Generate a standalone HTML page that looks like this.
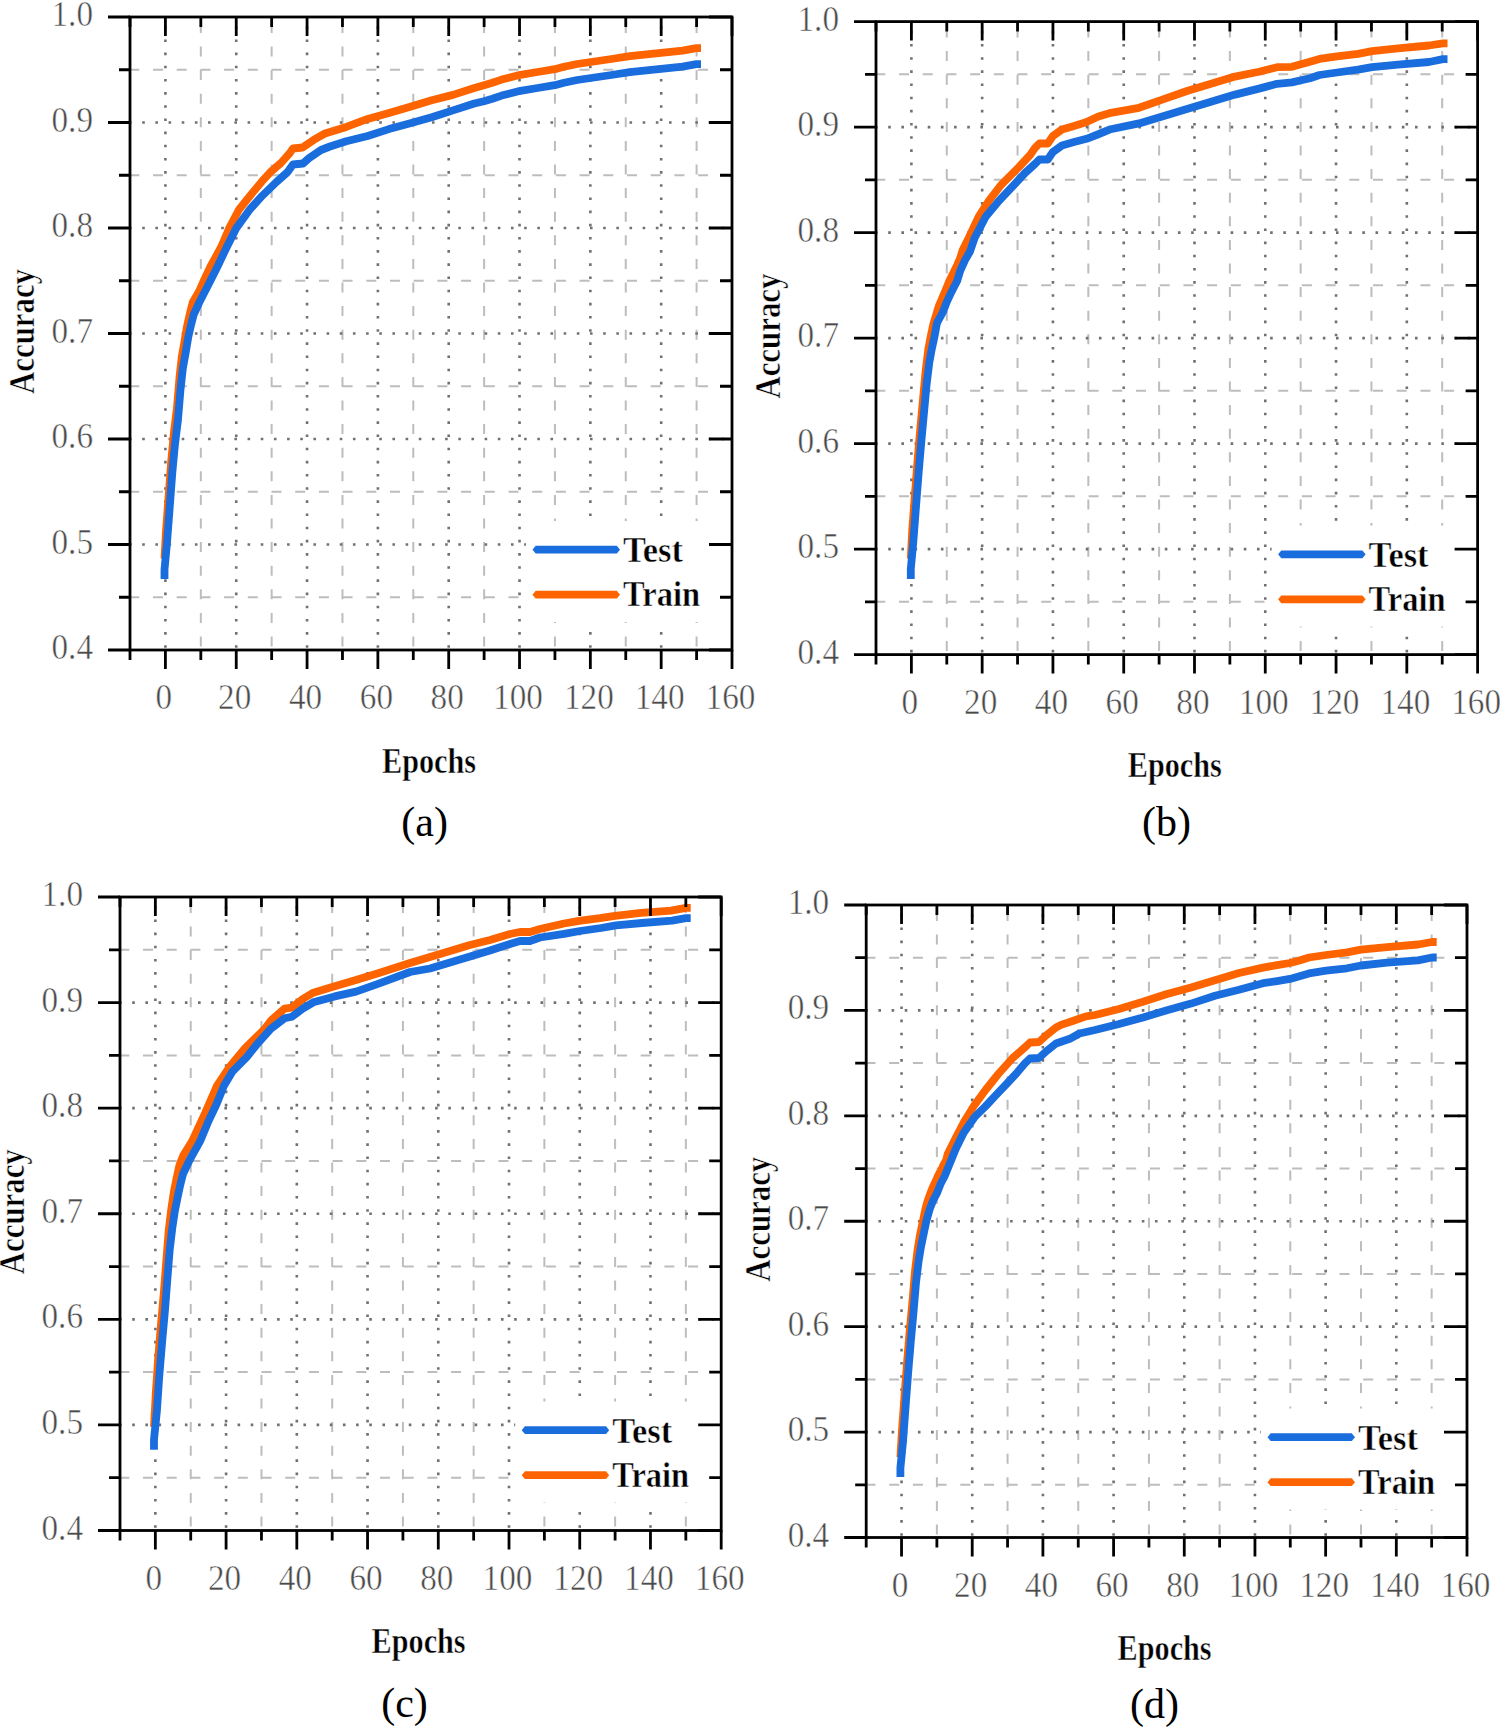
<!DOCTYPE html>
<html><head><meta charset="utf-8"><title>Accuracy vs Epochs</title>
<style>
html,body{margin:0;padding:0;background:#fff;}
body{width:1500px;height:1729px;overflow:hidden;}
svg{display:block;}
text{font-family:"Liberation Serif",serif;}
.tk text{font-size:35px;fill:#4a4a4a;stroke:#fff;stroke-width:0.5px;}
.lg{font-size:36px;font-weight:bold;fill:#000;stroke:#fff;stroke-width:0.5px;}
.ttl{font-size:36px;font-weight:bold;fill:#000;stroke:#fff;stroke-width:0.5px;}
.cap{font-size:42px;fill:#000;}
</style></head>
<body>
<svg width="1500" height="1729" viewBox="0 0 1500 1729">
<rect width="1500" height="1729" fill="#fff"/>
<g><line x1="200.82" y1="17" x2="200.82" y2="650" stroke="#bdbdbd" stroke-width="2" stroke-dasharray="10 13.6" stroke-dashoffset="-29.5"/><line x1="271.65" y1="17" x2="271.65" y2="650" stroke="#bdbdbd" stroke-width="2" stroke-dasharray="10 13.6" stroke-dashoffset="-29.5"/><line x1="342.47" y1="17" x2="342.47" y2="650" stroke="#bdbdbd" stroke-width="2" stroke-dasharray="10 13.6" stroke-dashoffset="-29.5"/><line x1="413.29" y1="17" x2="413.29" y2="650" stroke="#bdbdbd" stroke-width="2" stroke-dasharray="10 13.6" stroke-dashoffset="-29.5"/><line x1="484.12" y1="17" x2="484.12" y2="650" stroke="#bdbdbd" stroke-width="2" stroke-dasharray="10 13.6" stroke-dashoffset="-29.5"/><line x1="554.94" y1="17" x2="554.94" y2="650" stroke="#bdbdbd" stroke-width="2" stroke-dasharray="10 13.6" stroke-dashoffset="-29.5"/><line x1="625.76" y1="17" x2="625.76" y2="650" stroke="#bdbdbd" stroke-width="2" stroke-dasharray="10 13.6" stroke-dashoffset="-29.5"/><line x1="696.59" y1="17" x2="696.59" y2="650" stroke="#bdbdbd" stroke-width="2" stroke-dasharray="10 13.6" stroke-dashoffset="-29.5"/><line x1="130" y1="597.25" x2="732" y2="597.25" stroke="#bdbdbd" stroke-width="2" stroke-dasharray="10 13.7" stroke-dashoffset="0.7"/><line x1="130" y1="491.75" x2="732" y2="491.75" stroke="#bdbdbd" stroke-width="2" stroke-dasharray="10 13.7" stroke-dashoffset="0.7"/><line x1="130" y1="386.25" x2="732" y2="386.25" stroke="#bdbdbd" stroke-width="2" stroke-dasharray="10 13.7" stroke-dashoffset="0.7"/><line x1="130" y1="280.75" x2="732" y2="280.75" stroke="#bdbdbd" stroke-width="2" stroke-dasharray="10 13.7" stroke-dashoffset="0.7"/><line x1="130" y1="175.25" x2="732" y2="175.25" stroke="#bdbdbd" stroke-width="2" stroke-dasharray="10 13.7" stroke-dashoffset="0.7"/><line x1="130" y1="69.75" x2="732" y2="69.75" stroke="#bdbdbd" stroke-width="2" stroke-dasharray="10 13.7" stroke-dashoffset="0.7"/><line x1="165.41" y1="17" x2="165.41" y2="650" stroke="#717171" stroke-width="2.6" stroke-dasharray="2.6 10.57" stroke-dashoffset="-22.4"/><line x1="236.24" y1="17" x2="236.24" y2="650" stroke="#717171" stroke-width="2.6" stroke-dasharray="2.6 10.57" stroke-dashoffset="-22.4"/><line x1="307.06" y1="17" x2="307.06" y2="650" stroke="#717171" stroke-width="2.6" stroke-dasharray="2.6 10.57" stroke-dashoffset="-22.4"/><line x1="377.88" y1="17" x2="377.88" y2="650" stroke="#717171" stroke-width="2.6" stroke-dasharray="2.6 10.57" stroke-dashoffset="-22.4"/><line x1="448.71" y1="17" x2="448.71" y2="650" stroke="#717171" stroke-width="2.6" stroke-dasharray="2.6 10.57" stroke-dashoffset="-22.4"/><line x1="519.53" y1="17" x2="519.53" y2="650" stroke="#717171" stroke-width="2.6" stroke-dasharray="2.6 10.57" stroke-dashoffset="-22.4"/><line x1="590.35" y1="17" x2="590.35" y2="650" stroke="#717171" stroke-width="2.6" stroke-dasharray="2.6 10.57" stroke-dashoffset="-22.4"/><line x1="661.18" y1="17" x2="661.18" y2="650" stroke="#717171" stroke-width="2.6" stroke-dasharray="2.6 10.57" stroke-dashoffset="-22.4"/><line x1="130" y1="544.5" x2="732" y2="544.5" stroke="#717171" stroke-width="2.6" stroke-dasharray="2.6 10.57" stroke-dashoffset="-12.2"/><line x1="130" y1="439" x2="732" y2="439" stroke="#717171" stroke-width="2.6" stroke-dasharray="2.6 10.57" stroke-dashoffset="-12.2"/><line x1="130" y1="333.5" x2="732" y2="333.5" stroke="#717171" stroke-width="2.6" stroke-dasharray="2.6 10.57" stroke-dashoffset="-12.2"/><line x1="130" y1="228" x2="732" y2="228" stroke="#717171" stroke-width="2.6" stroke-dasharray="2.6 10.57" stroke-dashoffset="-12.2"/><line x1="130" y1="122.5" x2="732" y2="122.5" stroke="#717171" stroke-width="2.6" stroke-dasharray="2.6 10.57" stroke-dashoffset="-12.2"/></g>
<rect x="526" y="521" width="204" height="101" fill="#fff"/>
<polyline points="164.5,558.6 166,531 168.7,495.5 171.3,460.6 174,432 177,407.5 179.5,377.5 181.8,356.6 184.6,341 187.1,326 189.9,313.5 192.7,302.5 199,291.5 204.3,279.7 210.9,265.7 221.2,247 229.1,228.4 238.9,209.7 250.1,195.7 261.7,181.7 270.2,172.3 280.9,163 289.3,153.7 293,148.5 302.5,147.5 314,139.7 325,133.5 346.3,126.9 367.7,118.9 389,113.1 410.3,106.7 431.7,100.3 453,94.9 474.3,88 484,85.2 492.4,82.8 501.6,79.6 510.8,77.2 520.4,74.8 537.6,72 554.8,69.2 564,66.8 577.2,64 594.3,61.5 611.4,59 629.8,56.2 656.2,53.4 682.6,50.6 696.4,48.2 701,48.2" fill="none" stroke="#fd6400" stroke-width="7.8" stroke-linejoin="round" stroke-linecap="butt"/>
<polyline points="164.5,579 164.5,569.5 167,543 169.7,507.5 172.3,472.6 175,444 178,419.5 180.5,389.5 182.8,368.6 185.6,353 188.1,338 190.9,325.5 193.7,314.5 199,303 210.9,279.7 217.9,265.7 226.8,247 236.1,228.4 249.6,209.7 262.3,195.7 276.7,181.7 287.4,172.3 293,164.5 303,163.5 308.9,158.3 321,150 330,146.5 346.3,141.3 367.7,136 389,129.1 410.3,123.2 431.7,117.3 453,110.4 474.3,103.5 484,101.2 492.4,98.8 501.6,95.6 510.8,93.2 520.4,90.8 537.6,88 554.8,85.2 564,82.8 577.2,80 594.3,77.5 611.4,75 629.8,72.2 656.2,69.4 682.6,66.6 696.4,64.2 701,64.2" fill="none" stroke="#1a6ddd" stroke-width="7.8" stroke-linejoin="round" stroke-linecap="butt"/>
<polygon points="532.5,549.7 535.7,545.8 616.8,545.8 620,549.7 616.8,553.6 535.7,553.6" fill="#1a6ddd"/>
<polygon points="532.5,594.7 535.7,590.8 616.8,590.8 620,594.7 616.8,598.6 535.7,598.6" fill="#fd6400"/>
<text x="623" y="562" class="lg" textLength="60" lengthAdjust="spacingAndGlyphs">Test</text>
<text x="623" y="606" class="lg" textLength="77" lengthAdjust="spacingAndGlyphs">Train</text>
<rect x="130" y="17" width="602" height="633" fill="none" stroke="#000" stroke-width="2.8"/>
<path d="M130,650v10M130,17v10M165.41,650v19M165.41,17v19M200.82,650v10M200.82,17v10M236.24,650v19M236.24,17v19M271.65,650v10M271.65,17v10M307.06,650v19M307.06,17v19M342.47,650v10M342.47,17v10M377.88,650v19M377.88,17v19M413.29,650v10M413.29,17v10M448.71,650v19M448.71,17v19M484.12,650v10M484.12,17v10M519.53,650v19M519.53,17v19M554.94,650v10M554.94,17v10M590.35,650v19M590.35,17v19M625.76,650v10M625.76,17v10M661.18,650v19M661.18,17v19M696.59,650v10M696.59,17v10M732,650v19M732,17v19M130,650h-22M732,650h-23M130,597.25h-11M732,597.25h-12M130,544.5h-22M732,544.5h-23M130,491.75h-11M732,491.75h-12M130,439h-22M732,439h-23M130,386.25h-11M732,386.25h-12M130,333.5h-22M732,333.5h-23M130,280.75h-11M732,280.75h-12M130,228h-22M732,228h-23M130,175.25h-11M732,175.25h-12M130,122.5h-22M732,122.5h-23M130,69.75h-11M732,69.75h-12M130,17h-22M732,17h-23" stroke="#000" stroke-width="2.8" fill="none"/>
<g class="tk"><text transform="translate(163.91,709) scale(0.95,1)" text-anchor="middle">0</text><text transform="translate(234.74,709) scale(0.95,1)" text-anchor="middle">20</text><text transform="translate(305.56,709) scale(0.95,1)" text-anchor="middle">40</text><text transform="translate(376.38,709) scale(0.95,1)" text-anchor="middle">60</text><text transform="translate(447.21,709) scale(0.95,1)" text-anchor="middle">80</text><text transform="translate(518.03,709) scale(0.95,1)" text-anchor="middle">100</text><text transform="translate(588.85,709) scale(0.95,1)" text-anchor="middle">120</text><text transform="translate(659.68,709) scale(0.95,1)" text-anchor="middle">140</text><text transform="translate(730.5,709) scale(0.95,1)" text-anchor="middle">160</text><text transform="translate(93,659) scale(0.95,1)" text-anchor="end">0.4</text><text transform="translate(93,553.5) scale(0.95,1)" text-anchor="end">0.5</text><text transform="translate(93,448) scale(0.95,1)" text-anchor="end">0.6</text><text transform="translate(93,342.5) scale(0.95,1)" text-anchor="end">0.7</text><text transform="translate(93,237) scale(0.95,1)" text-anchor="end">0.8</text><text transform="translate(93,131.5) scale(0.95,1)" text-anchor="end">0.9</text><text transform="translate(93,26) scale(0.95,1)" text-anchor="end">1.0</text></g>
<text x="429" y="772.5" class="ttl" text-anchor="middle" textLength="94" lengthAdjust="spacingAndGlyphs">Epochs</text>
<text transform="translate(34,331.5) rotate(-90)" x="0" y="0" class="ttl" text-anchor="middle" textLength="125" lengthAdjust="spacingAndGlyphs">Accuracy</text>
<text x="424.6" y="836" class="cap" text-anchor="middle">(a)</text>
<g><line x1="946.78" y1="21.6" x2="946.78" y2="654.6" stroke="#bdbdbd" stroke-width="2" stroke-dasharray="10 13.6" stroke-dashoffset="-29.5"/><line x1="1017.55" y1="21.6" x2="1017.55" y2="654.6" stroke="#bdbdbd" stroke-width="2" stroke-dasharray="10 13.6" stroke-dashoffset="-29.5"/><line x1="1088.33" y1="21.6" x2="1088.33" y2="654.6" stroke="#bdbdbd" stroke-width="2" stroke-dasharray="10 13.6" stroke-dashoffset="-29.5"/><line x1="1159.11" y1="21.6" x2="1159.11" y2="654.6" stroke="#bdbdbd" stroke-width="2" stroke-dasharray="10 13.6" stroke-dashoffset="-29.5"/><line x1="1229.88" y1="21.6" x2="1229.88" y2="654.6" stroke="#bdbdbd" stroke-width="2" stroke-dasharray="10 13.6" stroke-dashoffset="-29.5"/><line x1="1300.66" y1="21.6" x2="1300.66" y2="654.6" stroke="#bdbdbd" stroke-width="2" stroke-dasharray="10 13.6" stroke-dashoffset="-29.5"/><line x1="1371.44" y1="21.6" x2="1371.44" y2="654.6" stroke="#bdbdbd" stroke-width="2" stroke-dasharray="10 13.6" stroke-dashoffset="-29.5"/><line x1="1442.21" y1="21.6" x2="1442.21" y2="654.6" stroke="#bdbdbd" stroke-width="2" stroke-dasharray="10 13.6" stroke-dashoffset="-29.5"/><line x1="876" y1="601.85" x2="1477.6" y2="601.85" stroke="#bdbdbd" stroke-width="2" stroke-dasharray="10 13.7" stroke-dashoffset="0.7"/><line x1="876" y1="496.35" x2="1477.6" y2="496.35" stroke="#bdbdbd" stroke-width="2" stroke-dasharray="10 13.7" stroke-dashoffset="0.7"/><line x1="876" y1="390.85" x2="1477.6" y2="390.85" stroke="#bdbdbd" stroke-width="2" stroke-dasharray="10 13.7" stroke-dashoffset="0.7"/><line x1="876" y1="285.35" x2="1477.6" y2="285.35" stroke="#bdbdbd" stroke-width="2" stroke-dasharray="10 13.7" stroke-dashoffset="0.7"/><line x1="876" y1="179.85" x2="1477.6" y2="179.85" stroke="#bdbdbd" stroke-width="2" stroke-dasharray="10 13.7" stroke-dashoffset="0.7"/><line x1="876" y1="74.35" x2="1477.6" y2="74.35" stroke="#bdbdbd" stroke-width="2" stroke-dasharray="10 13.7" stroke-dashoffset="0.7"/><line x1="911.39" y1="21.6" x2="911.39" y2="654.6" stroke="#717171" stroke-width="2.6" stroke-dasharray="2.6 10.57" stroke-dashoffset="-22.4"/><line x1="982.16" y1="21.6" x2="982.16" y2="654.6" stroke="#717171" stroke-width="2.6" stroke-dasharray="2.6 10.57" stroke-dashoffset="-22.4"/><line x1="1052.94" y1="21.6" x2="1052.94" y2="654.6" stroke="#717171" stroke-width="2.6" stroke-dasharray="2.6 10.57" stroke-dashoffset="-22.4"/><line x1="1123.72" y1="21.6" x2="1123.72" y2="654.6" stroke="#717171" stroke-width="2.6" stroke-dasharray="2.6 10.57" stroke-dashoffset="-22.4"/><line x1="1194.49" y1="21.6" x2="1194.49" y2="654.6" stroke="#717171" stroke-width="2.6" stroke-dasharray="2.6 10.57" stroke-dashoffset="-22.4"/><line x1="1265.27" y1="21.6" x2="1265.27" y2="654.6" stroke="#717171" stroke-width="2.6" stroke-dasharray="2.6 10.57" stroke-dashoffset="-22.4"/><line x1="1336.05" y1="21.6" x2="1336.05" y2="654.6" stroke="#717171" stroke-width="2.6" stroke-dasharray="2.6 10.57" stroke-dashoffset="-22.4"/><line x1="1406.82" y1="21.6" x2="1406.82" y2="654.6" stroke="#717171" stroke-width="2.6" stroke-dasharray="2.6 10.57" stroke-dashoffset="-22.4"/><line x1="876" y1="549.1" x2="1477.6" y2="549.1" stroke="#717171" stroke-width="2.6" stroke-dasharray="2.6 10.57" stroke-dashoffset="-12.2"/><line x1="876" y1="443.6" x2="1477.6" y2="443.6" stroke="#717171" stroke-width="2.6" stroke-dasharray="2.6 10.57" stroke-dashoffset="-12.2"/><line x1="876" y1="338.1" x2="1477.6" y2="338.1" stroke="#717171" stroke-width="2.6" stroke-dasharray="2.6 10.57" stroke-dashoffset="-12.2"/><line x1="876" y1="232.6" x2="1477.6" y2="232.6" stroke="#717171" stroke-width="2.6" stroke-dasharray="2.6 10.57" stroke-dashoffset="-12.2"/><line x1="876" y1="127.1" x2="1477.6" y2="127.1" stroke="#717171" stroke-width="2.6" stroke-dasharray="2.6 10.57" stroke-dashoffset="-12.2"/></g>
<rect x="1271.6" y="525.6" width="204" height="101" fill="#fff"/>
<polyline points="910.8,558.6 912.3,529 915,493.5 917.7,459 920.4,427.6 923.1,398.4 925.7,370.4 928.3,349.5 930.9,335.4 933.4,324 938.75,306.3 941.4,300 944.5,292.7 947.1,286.5 949.2,281.3 951.8,276 954.4,270.8 957,265.6 960.1,258.3 962.7,250 968.7,238 978.7,216.7 989,200.7 1001.3,184.7 1019,167 1030.1,155 1034.9,148 1039.4,143.5 1047.8,143.5 1052.9,136 1062,129.5 1074,126 1086,122.3 1098.4,116.4 1109.4,113.2 1139,107.8 1163,99.4 1187,91 1211,83.8 1235,76.6 1259,71.8 1277,67.2 1292,66.8 1300,64.6 1310,61.7 1319.5,58.9 1337,56.3 1358,53.8 1372,51.2 1398,48.4 1429,45.5 1443,43.3 1447.5,43.3" fill="none" stroke="#fd6400" stroke-width="7.8" stroke-linejoin="round" stroke-linecap="butt"/>
<polyline points="910.8,579 910.8,569 913.3,542 916,506.5 918.7,472 921.4,440.6 924.1,411.4 926.7,383.4 929.3,362.5 931.9,348.4 934.4,337 937,322.9 942.7,312.5 946.7,302.1 951.6,291.7 957,281.3 960.2,270.8 964.9,260.4 970,251.5 974.6,238 985.7,216.7 999,200.7 1013.9,185 1025,173 1034.9,164 1039.4,159.5 1047.8,159.5 1052.9,152 1062,145.5 1074,142 1086.6,138.8 1097.7,134.5 1110.7,129.2 1139,123.4 1163,116.2 1187,109 1211,101.8 1235,94.6 1259,88.6 1277,83.8 1292,82.4 1300,80.5 1310,78.2 1319.5,75 1337,72.5 1358,69.7 1372,67.1 1398,64.6 1429,62 1443,59.1 1447.5,59.1" fill="none" stroke="#1a6ddd" stroke-width="7.8" stroke-linejoin="round" stroke-linecap="butt"/>
<polygon points="1278.1,554.3 1281.3,550.4 1362.4,550.4 1365.6,554.3 1362.4,558.2 1281.3,558.2" fill="#1a6ddd"/>
<polygon points="1278.1,599.3 1281.3,595.4 1362.4,595.4 1365.6,599.3 1362.4,603.2 1281.3,603.2" fill="#fd6400"/>
<text x="1368.6" y="566.6" class="lg" textLength="60" lengthAdjust="spacingAndGlyphs">Test</text>
<text x="1368.6" y="610.6" class="lg" textLength="77" lengthAdjust="spacingAndGlyphs">Train</text>
<rect x="876" y="21.6" width="601.6" height="633" fill="none" stroke="#000" stroke-width="2.8"/>
<path d="M876,654.6v10M876,21.6v10M911.39,654.6v19M911.39,21.6v19M946.78,654.6v10M946.78,21.6v10M982.16,654.6v19M982.16,21.6v19M1017.55,654.6v10M1017.55,21.6v10M1052.94,654.6v19M1052.94,21.6v19M1088.33,654.6v10M1088.33,21.6v10M1123.72,654.6v19M1123.72,21.6v19M1159.11,654.6v10M1159.11,21.6v10M1194.49,654.6v19M1194.49,21.6v19M1229.88,654.6v10M1229.88,21.6v10M1265.27,654.6v19M1265.27,21.6v19M1300.66,654.6v10M1300.66,21.6v10M1336.05,654.6v19M1336.05,21.6v19M1371.44,654.6v10M1371.44,21.6v10M1406.82,654.6v19M1406.82,21.6v19M1442.21,654.6v10M1442.21,21.6v10M1477.6,654.6v19M1477.6,21.6v19M876,654.6h-22M1477.6,654.6h-23M876,601.85h-11M1477.6,601.85h-12M876,549.1h-22M1477.6,549.1h-23M876,496.35h-11M1477.6,496.35h-12M876,443.6h-22M1477.6,443.6h-23M876,390.85h-11M1477.6,390.85h-12M876,338.1h-22M1477.6,338.1h-23M876,285.35h-11M1477.6,285.35h-12M876,232.6h-22M1477.6,232.6h-23M876,179.85h-11M1477.6,179.85h-12M876,127.1h-22M1477.6,127.1h-23M876,74.35h-11M1477.6,74.35h-12M876,21.6h-22M1477.6,21.6h-23" stroke="#000" stroke-width="2.8" fill="none"/>
<g class="tk"><text transform="translate(909.89,713.6) scale(0.95,1)" text-anchor="middle">0</text><text transform="translate(980.66,713.6) scale(0.95,1)" text-anchor="middle">20</text><text transform="translate(1051.44,713.6) scale(0.95,1)" text-anchor="middle">40</text><text transform="translate(1122.22,713.6) scale(0.95,1)" text-anchor="middle">60</text><text transform="translate(1192.99,713.6) scale(0.95,1)" text-anchor="middle">80</text><text transform="translate(1263.77,713.6) scale(0.95,1)" text-anchor="middle">100</text><text transform="translate(1334.55,713.6) scale(0.95,1)" text-anchor="middle">120</text><text transform="translate(1405.32,713.6) scale(0.95,1)" text-anchor="middle">140</text><text transform="translate(1476.1,713.6) scale(0.95,1)" text-anchor="middle">160</text><text transform="translate(839,663.6) scale(0.95,1)" text-anchor="end">0.4</text><text transform="translate(839,558.1) scale(0.95,1)" text-anchor="end">0.5</text><text transform="translate(839,452.6) scale(0.95,1)" text-anchor="end">0.6</text><text transform="translate(839,347.1) scale(0.95,1)" text-anchor="end">0.7</text><text transform="translate(839,241.6) scale(0.95,1)" text-anchor="end">0.8</text><text transform="translate(839,136.1) scale(0.95,1)" text-anchor="end">0.9</text><text transform="translate(839,30.6) scale(0.95,1)" text-anchor="end">1.0</text></g>
<text x="1174.8" y="777.1" class="ttl" text-anchor="middle" textLength="94" lengthAdjust="spacingAndGlyphs">Epochs</text>
<text transform="translate(780,336.1) rotate(-90)" x="0" y="0" class="ttl" text-anchor="middle" textLength="125" lengthAdjust="spacingAndGlyphs">Accuracy</text>
<text x="1166.5" y="835.5" class="cap" text-anchor="middle">(b)</text>
<g><line x1="190.73" y1="897" x2="190.73" y2="1530.5" stroke="#bdbdbd" stroke-width="2" stroke-dasharray="10 13.6" stroke-dashoffset="-29.5"/><line x1="261.46" y1="897" x2="261.46" y2="1530.5" stroke="#bdbdbd" stroke-width="2" stroke-dasharray="10 13.6" stroke-dashoffset="-29.5"/><line x1="332.19" y1="897" x2="332.19" y2="1530.5" stroke="#bdbdbd" stroke-width="2" stroke-dasharray="10 13.6" stroke-dashoffset="-29.5"/><line x1="402.92" y1="897" x2="402.92" y2="1530.5" stroke="#bdbdbd" stroke-width="2" stroke-dasharray="10 13.6" stroke-dashoffset="-29.5"/><line x1="473.65" y1="897" x2="473.65" y2="1530.5" stroke="#bdbdbd" stroke-width="2" stroke-dasharray="10 13.6" stroke-dashoffset="-29.5"/><line x1="544.38" y1="897" x2="544.38" y2="1530.5" stroke="#bdbdbd" stroke-width="2" stroke-dasharray="10 13.6" stroke-dashoffset="-29.5"/><line x1="615.11" y1="897" x2="615.11" y2="1530.5" stroke="#bdbdbd" stroke-width="2" stroke-dasharray="10 13.6" stroke-dashoffset="-29.5"/><line x1="685.84" y1="897" x2="685.84" y2="1530.5" stroke="#bdbdbd" stroke-width="2" stroke-dasharray="10 13.6" stroke-dashoffset="-29.5"/><line x1="120" y1="1477.71" x2="721.2" y2="1477.71" stroke="#bdbdbd" stroke-width="2" stroke-dasharray="10 13.7" stroke-dashoffset="0.7"/><line x1="120" y1="1372.12" x2="721.2" y2="1372.12" stroke="#bdbdbd" stroke-width="2" stroke-dasharray="10 13.7" stroke-dashoffset="0.7"/><line x1="120" y1="1266.54" x2="721.2" y2="1266.54" stroke="#bdbdbd" stroke-width="2" stroke-dasharray="10 13.7" stroke-dashoffset="0.7"/><line x1="120" y1="1160.96" x2="721.2" y2="1160.96" stroke="#bdbdbd" stroke-width="2" stroke-dasharray="10 13.7" stroke-dashoffset="0.7"/><line x1="120" y1="1055.38" x2="721.2" y2="1055.38" stroke="#bdbdbd" stroke-width="2" stroke-dasharray="10 13.7" stroke-dashoffset="0.7"/><line x1="120" y1="949.79" x2="721.2" y2="949.79" stroke="#bdbdbd" stroke-width="2" stroke-dasharray="10 13.7" stroke-dashoffset="0.7"/><line x1="155.36" y1="897" x2="155.36" y2="1530.5" stroke="#717171" stroke-width="2.6" stroke-dasharray="2.6 10.57" stroke-dashoffset="-22.4"/><line x1="226.09" y1="897" x2="226.09" y2="1530.5" stroke="#717171" stroke-width="2.6" stroke-dasharray="2.6 10.57" stroke-dashoffset="-22.4"/><line x1="296.82" y1="897" x2="296.82" y2="1530.5" stroke="#717171" stroke-width="2.6" stroke-dasharray="2.6 10.57" stroke-dashoffset="-22.4"/><line x1="367.55" y1="897" x2="367.55" y2="1530.5" stroke="#717171" stroke-width="2.6" stroke-dasharray="2.6 10.57" stroke-dashoffset="-22.4"/><line x1="438.28" y1="897" x2="438.28" y2="1530.5" stroke="#717171" stroke-width="2.6" stroke-dasharray="2.6 10.57" stroke-dashoffset="-22.4"/><line x1="509.01" y1="897" x2="509.01" y2="1530.5" stroke="#717171" stroke-width="2.6" stroke-dasharray="2.6 10.57" stroke-dashoffset="-22.4"/><line x1="579.74" y1="897" x2="579.74" y2="1530.5" stroke="#717171" stroke-width="2.6" stroke-dasharray="2.6 10.57" stroke-dashoffset="-22.4"/><line x1="650.47" y1="897" x2="650.47" y2="1530.5" stroke="#717171" stroke-width="2.6" stroke-dasharray="2.6 10.57" stroke-dashoffset="-22.4"/><line x1="120" y1="1424.92" x2="721.2" y2="1424.92" stroke="#717171" stroke-width="2.6" stroke-dasharray="2.6 10.57" stroke-dashoffset="-12.2"/><line x1="120" y1="1319.33" x2="721.2" y2="1319.33" stroke="#717171" stroke-width="2.6" stroke-dasharray="2.6 10.57" stroke-dashoffset="-12.2"/><line x1="120" y1="1213.75" x2="721.2" y2="1213.75" stroke="#717171" stroke-width="2.6" stroke-dasharray="2.6 10.57" stroke-dashoffset="-12.2"/><line x1="120" y1="1108.17" x2="721.2" y2="1108.17" stroke="#717171" stroke-width="2.6" stroke-dasharray="2.6 10.57" stroke-dashoffset="-12.2"/><line x1="120" y1="1002.58" x2="721.2" y2="1002.58" stroke="#717171" stroke-width="2.6" stroke-dasharray="2.6 10.57" stroke-dashoffset="-12.2"/></g>
<rect x="515.2" y="1401.5" width="204" height="101" fill="#fff"/>
<polyline points="154,1427 155.9,1392 158.2,1357.9 161.1,1323.2 164,1290.8 166.3,1261 168.7,1230.7 171.3,1209 173.9,1191.7 176.5,1178.7 179.3,1165.7 183.5,1155 192,1141.4 205,1113.4 217.2,1085.4 229.7,1066.7 245.2,1048 264.3,1029.3 271.5,1020 284.5,1008.7 292,1007.6 302.7,999 313.3,992.7 334.7,986.3 356,979.9 377.3,973.5 410,963 430,957 450,951 470,945 490,940 510,934 520,932 530,932 540,929 564,923.5 579,920.8 600,918.1 615,915.8 641,912.8 671,910.7 686,907.8 690.7,907.8" fill="none" stroke="#fd6400" stroke-width="7.8" stroke-linejoin="round" stroke-linecap="butt"/>
<polyline points="154,1449.8 154,1439.4 156.9,1411 159.2,1376.9 162.1,1342.2 165,1309.8 167.3,1280 169.7,1249.7 172.3,1228 174.9,1210.7 177.5,1197.7 180.3,1184.7 183,1174 189.6,1160 200,1141.4 207.8,1122.7 216.6,1104 224.1,1085.4 232.5,1071.4 246.6,1057.3 257.8,1043.3 270.7,1028.9 284.5,1018.3 292,1016.7 302.7,1008.7 313.3,1002.3 334.7,996.4 356,991.6 377.3,984.1 410,972 430,968.5 450,962.5 470,956.5 490,950.5 510,944 520,941 530,941 540,937.5 564,933.9 580,931 601,928 616,925.4 642,923 672,920.6 686,918.1 690.7,918.1" fill="none" stroke="#1a6ddd" stroke-width="7.8" stroke-linejoin="round" stroke-linecap="butt"/>
<polygon points="521.7,1430.2 524.9,1426.3 606,1426.3 609.2,1430.2 606,1434.1 524.9,1434.1" fill="#1a6ddd"/>
<polygon points="521.7,1475.2 524.9,1471.3 606,1471.3 609.2,1475.2 606,1479.1 524.9,1479.1" fill="#fd6400"/>
<text x="612.2" y="1442.5" class="lg" textLength="60" lengthAdjust="spacingAndGlyphs">Test</text>
<text x="612.2" y="1486.5" class="lg" textLength="77" lengthAdjust="spacingAndGlyphs">Train</text>
<rect x="120" y="897" width="601.2" height="633.5" fill="none" stroke="#000" stroke-width="2.8"/>
<path d="M120,1530.5v10M120,897v10M155.36,1530.5v19M155.36,897v19M190.73,1530.5v10M190.73,897v10M226.09,1530.5v19M226.09,897v19M261.46,1530.5v10M261.46,897v10M296.82,1530.5v19M296.82,897v19M332.19,1530.5v10M332.19,897v10M367.55,1530.5v19M367.55,897v19M402.92,1530.5v10M402.92,897v10M438.28,1530.5v19M438.28,897v19M473.65,1530.5v10M473.65,897v10M509.01,1530.5v19M509.01,897v19M544.38,1530.5v10M544.38,897v10M579.74,1530.5v19M579.74,897v19M615.11,1530.5v10M615.11,897v10M650.47,1530.5v19M650.47,897v19M685.84,1530.5v10M685.84,897v10M721.2,1530.5v19M721.2,897v19M120,1530.5h-22M721.2,1530.5h-23M120,1477.71h-11M721.2,1477.71h-12M120,1424.92h-22M721.2,1424.92h-23M120,1372.12h-11M721.2,1372.12h-12M120,1319.33h-22M721.2,1319.33h-23M120,1266.54h-11M721.2,1266.54h-12M120,1213.75h-22M721.2,1213.75h-23M120,1160.96h-11M721.2,1160.96h-12M120,1108.17h-22M721.2,1108.17h-23M120,1055.38h-11M721.2,1055.38h-12M120,1002.58h-22M721.2,1002.58h-23M120,949.79h-11M721.2,949.79h-12M120,897h-22M721.2,897h-23" stroke="#000" stroke-width="2.8" fill="none"/>
<g class="tk"><text transform="translate(153.86,1589.5) scale(0.95,1)" text-anchor="middle">0</text><text transform="translate(224.59,1589.5) scale(0.95,1)" text-anchor="middle">20</text><text transform="translate(295.32,1589.5) scale(0.95,1)" text-anchor="middle">40</text><text transform="translate(366.05,1589.5) scale(0.95,1)" text-anchor="middle">60</text><text transform="translate(436.78,1589.5) scale(0.95,1)" text-anchor="middle">80</text><text transform="translate(507.51,1589.5) scale(0.95,1)" text-anchor="middle">100</text><text transform="translate(578.24,1589.5) scale(0.95,1)" text-anchor="middle">120</text><text transform="translate(648.97,1589.5) scale(0.95,1)" text-anchor="middle">140</text><text transform="translate(719.7,1589.5) scale(0.95,1)" text-anchor="middle">160</text><text transform="translate(83,1539.5) scale(0.95,1)" text-anchor="end">0.4</text><text transform="translate(83,1433.92) scale(0.95,1)" text-anchor="end">0.5</text><text transform="translate(83,1328.33) scale(0.95,1)" text-anchor="end">0.6</text><text transform="translate(83,1222.75) scale(0.95,1)" text-anchor="end">0.7</text><text transform="translate(83,1117.17) scale(0.95,1)" text-anchor="end">0.8</text><text transform="translate(83,1011.58) scale(0.95,1)" text-anchor="end">0.9</text><text transform="translate(83,906) scale(0.95,1)" text-anchor="end">1.0</text></g>
<text x="418.6" y="1653" class="ttl" text-anchor="middle" textLength="94" lengthAdjust="spacingAndGlyphs">Epochs</text>
<text transform="translate(24,1211.75) rotate(-90)" x="0" y="0" class="ttl" text-anchor="middle" textLength="125" lengthAdjust="spacingAndGlyphs">Accuracy</text>
<text x="404.5" y="1717" class="cap" text-anchor="middle">(c)</text>
<g><line x1="936.88" y1="905" x2="936.88" y2="1537.5" stroke="#bdbdbd" stroke-width="2" stroke-dasharray="10 13.6" stroke-dashoffset="-29.5"/><line x1="1007.56" y1="905" x2="1007.56" y2="1537.5" stroke="#bdbdbd" stroke-width="2" stroke-dasharray="10 13.6" stroke-dashoffset="-29.5"/><line x1="1078.25" y1="905" x2="1078.25" y2="1537.5" stroke="#bdbdbd" stroke-width="2" stroke-dasharray="10 13.6" stroke-dashoffset="-29.5"/><line x1="1148.93" y1="905" x2="1148.93" y2="1537.5" stroke="#bdbdbd" stroke-width="2" stroke-dasharray="10 13.6" stroke-dashoffset="-29.5"/><line x1="1219.61" y1="905" x2="1219.61" y2="1537.5" stroke="#bdbdbd" stroke-width="2" stroke-dasharray="10 13.6" stroke-dashoffset="-29.5"/><line x1="1290.29" y1="905" x2="1290.29" y2="1537.5" stroke="#bdbdbd" stroke-width="2" stroke-dasharray="10 13.6" stroke-dashoffset="-29.5"/><line x1="1360.98" y1="905" x2="1360.98" y2="1537.5" stroke="#bdbdbd" stroke-width="2" stroke-dasharray="10 13.6" stroke-dashoffset="-29.5"/><line x1="1431.66" y1="905" x2="1431.66" y2="1537.5" stroke="#bdbdbd" stroke-width="2" stroke-dasharray="10 13.6" stroke-dashoffset="-29.5"/><line x1="866.2" y1="1484.79" x2="1467" y2="1484.79" stroke="#bdbdbd" stroke-width="2" stroke-dasharray="10 13.7" stroke-dashoffset="0.7"/><line x1="866.2" y1="1379.38" x2="1467" y2="1379.38" stroke="#bdbdbd" stroke-width="2" stroke-dasharray="10 13.7" stroke-dashoffset="0.7"/><line x1="866.2" y1="1273.96" x2="1467" y2="1273.96" stroke="#bdbdbd" stroke-width="2" stroke-dasharray="10 13.7" stroke-dashoffset="0.7"/><line x1="866.2" y1="1168.54" x2="1467" y2="1168.54" stroke="#bdbdbd" stroke-width="2" stroke-dasharray="10 13.7" stroke-dashoffset="0.7"/><line x1="866.2" y1="1063.12" x2="1467" y2="1063.12" stroke="#bdbdbd" stroke-width="2" stroke-dasharray="10 13.7" stroke-dashoffset="0.7"/><line x1="866.2" y1="957.71" x2="1467" y2="957.71" stroke="#bdbdbd" stroke-width="2" stroke-dasharray="10 13.7" stroke-dashoffset="0.7"/><line x1="901.54" y1="905" x2="901.54" y2="1537.5" stroke="#717171" stroke-width="2.6" stroke-dasharray="2.6 10.57" stroke-dashoffset="-22.4"/><line x1="972.22" y1="905" x2="972.22" y2="1537.5" stroke="#717171" stroke-width="2.6" stroke-dasharray="2.6 10.57" stroke-dashoffset="-22.4"/><line x1="1042.91" y1="905" x2="1042.91" y2="1537.5" stroke="#717171" stroke-width="2.6" stroke-dasharray="2.6 10.57" stroke-dashoffset="-22.4"/><line x1="1113.59" y1="905" x2="1113.59" y2="1537.5" stroke="#717171" stroke-width="2.6" stroke-dasharray="2.6 10.57" stroke-dashoffset="-22.4"/><line x1="1184.27" y1="905" x2="1184.27" y2="1537.5" stroke="#717171" stroke-width="2.6" stroke-dasharray="2.6 10.57" stroke-dashoffset="-22.4"/><line x1="1254.95" y1="905" x2="1254.95" y2="1537.5" stroke="#717171" stroke-width="2.6" stroke-dasharray="2.6 10.57" stroke-dashoffset="-22.4"/><line x1="1325.64" y1="905" x2="1325.64" y2="1537.5" stroke="#717171" stroke-width="2.6" stroke-dasharray="2.6 10.57" stroke-dashoffset="-22.4"/><line x1="1396.32" y1="905" x2="1396.32" y2="1537.5" stroke="#717171" stroke-width="2.6" stroke-dasharray="2.6 10.57" stroke-dashoffset="-22.4"/><line x1="866.2" y1="1432.08" x2="1467" y2="1432.08" stroke="#717171" stroke-width="2.6" stroke-dasharray="2.6 10.57" stroke-dashoffset="-12.2"/><line x1="866.2" y1="1326.67" x2="1467" y2="1326.67" stroke="#717171" stroke-width="2.6" stroke-dasharray="2.6 10.57" stroke-dashoffset="-12.2"/><line x1="866.2" y1="1221.25" x2="1467" y2="1221.25" stroke="#717171" stroke-width="2.6" stroke-dasharray="2.6 10.57" stroke-dashoffset="-12.2"/><line x1="866.2" y1="1115.83" x2="1467" y2="1115.83" stroke="#717171" stroke-width="2.6" stroke-dasharray="2.6 10.57" stroke-dashoffset="-12.2"/><line x1="866.2" y1="1010.42" x2="1467" y2="1010.42" stroke="#717171" stroke-width="2.6" stroke-dasharray="2.6 10.57" stroke-dashoffset="-12.2"/></g>
<rect x="1261" y="1408.5" width="204" height="101" fill="#fff"/>
<polyline points="900.4,1457.3 902,1430.2 904.6,1394.8 907.2,1360.9 909.8,1329.9 912.4,1302 915,1271.1 917.6,1249.7 920,1235.1 922.8,1221.8 925.3,1209.6 927.3,1202.1 930.1,1194 933,1186.7 935.8,1181 938.2,1175.4 941,1170.5 943.5,1164.9 946.3,1160 947.7,1154 955.7,1138 964,1122 973.8,1106 985.5,1090 998.3,1074 1012.7,1058 1025,1047.3 1030,1042.5 1039,1042 1046,1035.5 1056,1027.5 1061,1024.9 1073.4,1020.7 1086,1016.4 1095,1015 1119,1009 1143,1001.8 1167,994 1191,987.4 1215,980.2 1239,973 1263,967.6 1277,965.2 1290,963 1299.5,960.4 1309,957.5 1326,955 1347,952.4 1361,949.6 1387,947.1 1418,944.5 1432,942 1436.7,942" fill="none" stroke="#fd6400" stroke-width="7.8" stroke-linejoin="round" stroke-linecap="butt"/>
<polyline points="900.4,1477 900.4,1468 903,1441.7 905.6,1406.3 908.2,1372.4 910.8,1341.4 913.4,1313.5 916,1282.6 918.6,1261.2 921,1246.6 923.8,1233.3 926.3,1221.1 929.9,1208.6 933.1,1200.5 937.3,1192.4 940.4,1184.3 944.6,1176.2 949.3,1164.7 955.8,1148.7 963.7,1132.7 974.9,1116.7 985.8,1106 995.7,1095.3 1005.8,1084.7 1015.9,1074 1025,1063.3 1030,1058.5 1039,1058 1046,1051.5 1056,1043.5 1069.8,1038.8 1079.4,1033.5 1095,1030 1119,1024 1143,1017.4 1167,1010.2 1191,1003.6 1215,995.8 1239,989.8 1263,983.2 1277,981.1 1290,978.9 1299.5,976.2 1309,973.4 1326,970.6 1347,968.3 1361,965.5 1387,962.6 1418,960.4 1432,957.5 1436.7,957.5" fill="none" stroke="#1a6ddd" stroke-width="7.8" stroke-linejoin="round" stroke-linecap="butt"/>
<polygon points="1267.5,1437.2 1270.7,1433.3 1351.8,1433.3 1355,1437.2 1351.8,1441.1 1270.7,1441.1" fill="#1a6ddd"/>
<polygon points="1267.5,1482.2 1270.7,1478.3 1351.8,1478.3 1355,1482.2 1351.8,1486.1 1270.7,1486.1" fill="#fd6400"/>
<text x="1358" y="1449.5" class="lg" textLength="60" lengthAdjust="spacingAndGlyphs">Test</text>
<text x="1358" y="1493.5" class="lg" textLength="77" lengthAdjust="spacingAndGlyphs">Train</text>
<rect x="866.2" y="905" width="600.8" height="632.5" fill="none" stroke="#000" stroke-width="2.8"/>
<path d="M866.2,1537.5v10M866.2,905v10M901.54,1537.5v19M901.54,905v19M936.88,1537.5v10M936.88,905v10M972.22,1537.5v19M972.22,905v19M1007.56,1537.5v10M1007.56,905v10M1042.91,1537.5v19M1042.91,905v19M1078.25,1537.5v10M1078.25,905v10M1113.59,1537.5v19M1113.59,905v19M1148.93,1537.5v10M1148.93,905v10M1184.27,1537.5v19M1184.27,905v19M1219.61,1537.5v10M1219.61,905v10M1254.95,1537.5v19M1254.95,905v19M1290.29,1537.5v10M1290.29,905v10M1325.64,1537.5v19M1325.64,905v19M1360.98,1537.5v10M1360.98,905v10M1396.32,1537.5v19M1396.32,905v19M1431.66,1537.5v10M1431.66,905v10M1467,1537.5v19M1467,905v19M866.2,1537.5h-22M1467,1537.5h-23M866.2,1484.79h-11M1467,1484.79h-12M866.2,1432.08h-22M1467,1432.08h-23M866.2,1379.38h-11M1467,1379.38h-12M866.2,1326.67h-22M1467,1326.67h-23M866.2,1273.96h-11M1467,1273.96h-12M866.2,1221.25h-22M1467,1221.25h-23M866.2,1168.54h-11M1467,1168.54h-12M866.2,1115.83h-22M1467,1115.83h-23M866.2,1063.12h-11M1467,1063.12h-12M866.2,1010.42h-22M1467,1010.42h-23M866.2,957.71h-11M1467,957.71h-12M866.2,905h-22M1467,905h-23" stroke="#000" stroke-width="2.8" fill="none"/>
<g class="tk"><text transform="translate(900.04,1596.5) scale(0.95,1)" text-anchor="middle">0</text><text transform="translate(970.72,1596.5) scale(0.95,1)" text-anchor="middle">20</text><text transform="translate(1041.41,1596.5) scale(0.95,1)" text-anchor="middle">40</text><text transform="translate(1112.09,1596.5) scale(0.95,1)" text-anchor="middle">60</text><text transform="translate(1182.77,1596.5) scale(0.95,1)" text-anchor="middle">80</text><text transform="translate(1253.45,1596.5) scale(0.95,1)" text-anchor="middle">100</text><text transform="translate(1324.14,1596.5) scale(0.95,1)" text-anchor="middle">120</text><text transform="translate(1394.82,1596.5) scale(0.95,1)" text-anchor="middle">140</text><text transform="translate(1465.5,1596.5) scale(0.95,1)" text-anchor="middle">160</text><text transform="translate(829.2,1546.5) scale(0.95,1)" text-anchor="end">0.4</text><text transform="translate(829.2,1441.08) scale(0.95,1)" text-anchor="end">0.5</text><text transform="translate(829.2,1335.67) scale(0.95,1)" text-anchor="end">0.6</text><text transform="translate(829.2,1230.25) scale(0.95,1)" text-anchor="end">0.7</text><text transform="translate(829.2,1124.83) scale(0.95,1)" text-anchor="end">0.8</text><text transform="translate(829.2,1019.42) scale(0.95,1)" text-anchor="end">0.9</text><text transform="translate(829.2,914) scale(0.95,1)" text-anchor="end">1.0</text></g>
<text x="1164.6" y="1660" class="ttl" text-anchor="middle" textLength="94" lengthAdjust="spacingAndGlyphs">Epochs</text>
<text transform="translate(770.2,1219.25) rotate(-90)" x="0" y="0" class="ttl" text-anchor="middle" textLength="125" lengthAdjust="spacingAndGlyphs">Accuracy</text>
<text x="1154.5" y="1718" class="cap" text-anchor="middle">(d)</text>
</svg>
</body></html>
